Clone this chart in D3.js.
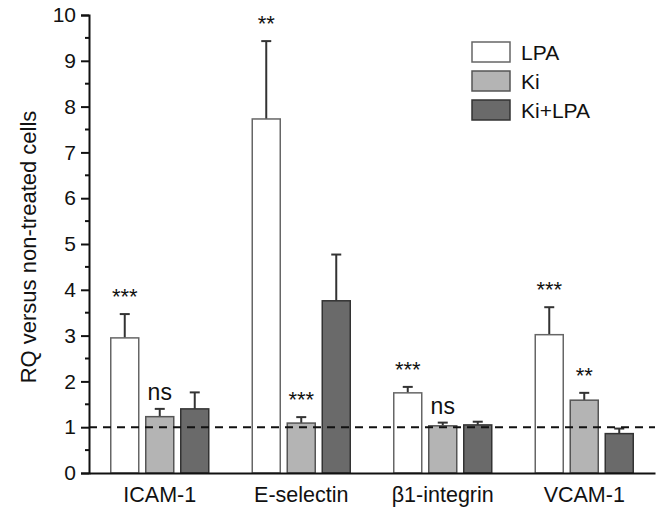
<!DOCTYPE html>
<html><head><meta charset="utf-8">
<script src="https://cdn.jsdelivr.net/npm/d3@7"></script>
<style>body{margin:0;background:#fff}svg{display:block}text{font-family:"Liberation Sans",Arial,sans-serif;fill:#111}</style>
</head><body><div id="chart"></div>
<script>
const categories = ["ICAM-1", "E-selectin", "β1-integrin", "VCAM-1"];
const seriesNames = ["LPA", "Ki", "Ki+LPA"];
const lpaValues = [2.95, 7.73, 1.75, 3.02];
const lpaErrors = [0.52, 1.70, 0.13, 0.60];
const kiValues = [1.23, 1.09, 1.03, 1.59];
const kiErrors = [0.17, 0.13, 0.07, 0.16];
const kiLpaValues = [1.40, 3.76, 1.05, 0.86];
const kiLpaErrors = [0.36, 1.01, 0.07, 0.11];
const lpaSig = ["***", "**", "***", "***"];
const kiSig = ["ns", "***", "ns", "**"];
const yTicks = [0,1,2,3,4,5,6,7,8,9,10];
const refValue = 1;

const W = 658, H = 513;
const m = {left: 89, right: 3, top: 15, bottom: 40};
const svg = d3.select("#chart").append("svg").attr("width", W).attr("height", H);

const x = d3.scaleBand().domain(categories).range([m.left, W - m.right]);
const xs = d3.scaleBand().domain(seriesNames).range([-49, 49]).paddingInner(0.2);
const y = d3.scaleLinear().domain([0, 10]).range([473, 15]);

const fills = {"LPA": "#ffffff", "Ki": "#b4b4b4", "Ki+LPA": "#6a6a6a"};
const strokes = {"LPA": "#666", "Ki": "#555", "Ki+LPA": "#333"};
const vals = {"LPA": lpaValues, "Ki": kiValues, "Ki+LPA": kiLpaValues};
const errs = {"LPA": lpaErrors, "Ki": kiErrors, "Ki+LPA": kiLpaErrors};

const data = [];
seriesNames.forEach(s => categories.forEach((c, i) => data.push({s, c, v: vals[s][i], e: errs[s][i]})));

const g = svg.append("g");
data.forEach(d => {
  const cx = x(d.c) + x.bandwidth()/2 + xs(d.s) + xs.bandwidth()/2;
  g.append("line").attr("x1", cx).attr("x2", cx).attr("y1", y(d.v)).attr("y2", y(d.v + d.e))
    .attr("stroke", "#333").attr("stroke-width", 2);
  g.append("line").attr("x1", cx - 5).attr("x2", cx + 5).attr("y1", y(d.v + d.e)).attr("y2", y(d.v + d.e))
    .attr("stroke", "#333").attr("stroke-width", 2);
});
g.selectAll("rect.bar").data(data).join("rect").attr("class", "bar")
  .attr("x", d => x(d.c) + x.bandwidth()/2 + xs(d.s))
  .attr("width", xs.bandwidth())
  .attr("y", d => y(d.v))
  .attr("height", d => y(0) - y(d.v))
  .attr("fill", d => fills[d.s])
  .attr("stroke", d => strokes[d.s])
  .attr("stroke-width", 1.5);

svg.append("line").attr("x1", m.left).attr("x2", W - m.right).attr("y1", y(refValue)).attr("y2", y(refValue))
  .attr("stroke", "#111").attr("stroke-width", 2).attr("stroke-dasharray", "8,6");

const sigs = [];
categories.forEach((c, i) => {
  sigs.push({c, s: "LPA", t: lpaSig[i], top: lpaValues[i] + lpaErrors[i]});
  sigs.push({c, s: "Ki", t: kiSig[i], top: kiValues[i] + kiErrors[i]});
});
sigs.forEach(d => {
  const cx = x(d.c) + x.bandwidth()/2 + xs(d.s) + xs.bandwidth()/2;
  const isNs = d.t === "ns";
  svg.append("text").attr("x", cx).attr("y", y(d.top) - (isNs ? 9 : 10))
    .attr("text-anchor", "middle").attr("font-size", isNs ? 23 : 22).text(d.t);
});

const yAxis = d3.axisLeft(y).tickValues(yTicks).tickSize(8).tickPadding(5).tickFormat(d3.format("d"));
const ya = svg.append("g").attr("transform", `translate(${m.left},0)`).call(yAxis);
ya.select(".domain").attr("stroke", "#111").attr("stroke-width", 2);
ya.selectAll(".tick line").attr("stroke", "#111").attr("stroke-width", 2);
ya.selectAll(".tick text").attr("font-size", 21).attr("fill", "#111").attr("font-family", '"Liberation Sans",Arial,sans-serif');
const minor = d3.range(0.5, 10, 1);
svg.append("g").selectAll("line").data(minor).join("line")
  .attr("x1", m.left - 4).attr("x2", m.left).attr("y1", d => y(d)).attr("y2", d => y(d))
  .attr("stroke", "#111").attr("stroke-width", 2);

const xAxis = d3.axisBottom(x).tickSize(0).tickPadding(14);
const xa = svg.append("g").attr("transform", `translate(0,${y(0)})`).call(xAxis);
xa.select(".domain").attr("stroke", "#111").attr("stroke-width", 2);
xa.selectAll(".tick text").attr("font-size", 21.5).attr("fill", "#111").attr("font-family", '"Liberation Sans",Arial,sans-serif');

svg.append("text").attr("transform", `translate(36,${(y(0)+y(10))/2 + 3}) rotate(-90)`)
  .attr("text-anchor", "middle").attr("font-size", 22).text("RQ versus non-treated cells");

const lg = svg.append("g").attr("transform", "translate(472,42)");
seriesNames.forEach((s, i) => {
  lg.append("rect").attr("x", 0).attr("y", i * 29).attr("width", 38).attr("height", 20)
    .attr("fill", fills[s]).attr("stroke", strokes[s]).attr("stroke-width", 1.5);
  lg.append("text").attr("x", 49).attr("y", i * 29 + 18).attr("font-size", 21).text(s);
});
</script></body></html>
